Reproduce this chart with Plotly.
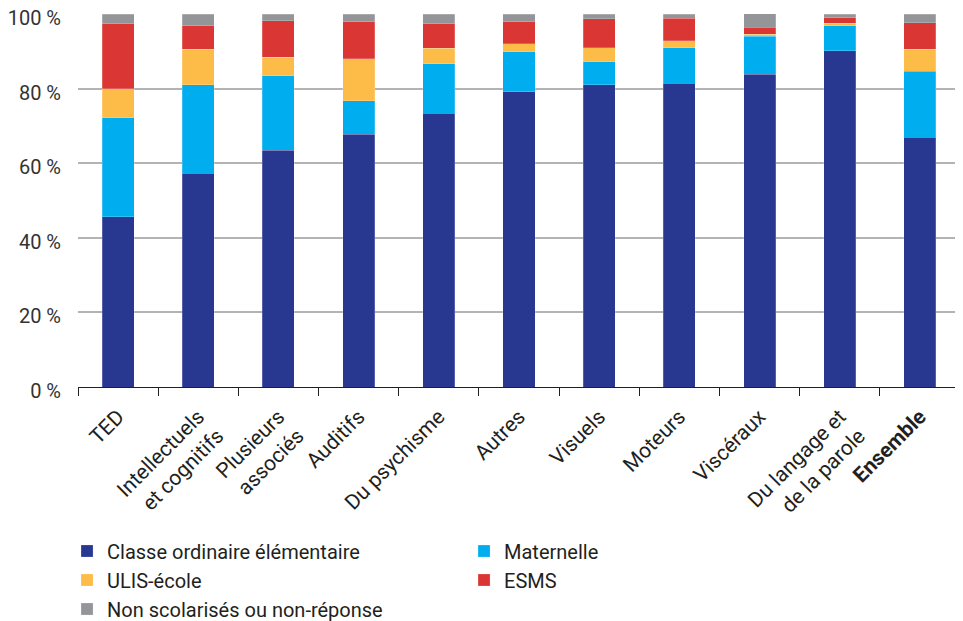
import plotly.graph_objects as go

categories = ["TED", "Intellectuels<br>et cognitifs", "Plusieurs<br>associés", "Auditifs",
              "Du psychisme", "Autres", "Visuels", "Moteurs", "Viscéraux",
              "Du langage et<br>de la parole", "<b>Ensemble</b>"]

classe_ordinaire = [45.7, 57.3, 63.5, 67.7, 73.4, 79.2, 81.0, 81.4, 83.8, 90.2, 67.0]
maternelle = [26.5, 23.8, 19.9, 9.1, 13.3, 10.7, 6.2, 9.5, 10.3, 6.7, 17.6]
ulis_ecole = [7.8, 9.4, 5.0, 11.2, 4.1, 2.1, 3.7, 1.9, 0.5, 0.6, 6.0]
esms = [17.4, 6.3, 9.8, 9.9, 6.6, 5.9, 7.8, 6.0, 1.8, 1.5, 7.0]
non_scolarises = [2.6, 3.2, 1.8, 2.1, 2.6, 2.1, 1.3, 1.2, 3.7, 1.0, 2.4]

y_tick_values = [0, 20, 40, 60, 80, 100]
y_tick_labels = ["0 %", "20 %", "40 %", "60 %", "80 %", "100 %"]

series = [
    ("Classe ordinaire élémentaire", classe_ordinaire, "#283891"),
    ("Maternelle", maternelle, "#00AEEF"),
    ("ULIS-école", ulis_ecole, "#FDBB47"),
    ("ESMS", esms, "#DA3734"),
    ("Non scolarisés ou non-réponse", non_scolarises, "#939598"),
]

FONT = "Roboto, sans-serif"

fig = go.Figure()
for name, vals, color in series:
    fig.add_trace(go.Bar(
        x=categories, y=vals, name=name,
        marker=dict(color=color, line=dict(color="rgba(255,255,255,0.4)", width=0.5)),
    ))

fig.update_layout(
    barmode="stack",
    bargap=0.6,
    width=963, height=621,
    margin=dict(l=70, r=11, t=6, b=242),
    paper_bgcolor="white", plot_bgcolor="white",
    font=dict(family=FONT, size=21, color="#231F20"),
    showlegend=True,
    legend=dict(
        orientation="h",
        xref="container", x=0.0613, xanchor="left",
        yref="container", y=0.157, yanchor="top",
        entrywidth=352, entrywidthmode="pixels",
        traceorder="normal",
        font=dict(size=20, color="#231F20"),
        itemwidth=30, tracegroupgap=0,
    ),
    xaxis=dict(
        automargin=False,
        tickangle=-45,
        showline=True, linecolor="#231F20", linewidth=1.2,
        ticks="outside", tickson="boundaries", ticklen=8, tickcolor="#231F20",
        ticklabelstandoff=8,
        tickfont=dict(size=21, color="#231F20"),
        showgrid=False,
    ),
    yaxis=dict(
        automargin=False,
        range=[0, 100],
        tickmode="array",
        tickvals=y_tick_values,
        ticktext=y_tick_labels,
        ticklabelstandoff=16,
        ticklabelshift=4,
        ticklabeloverflow="allow",
        showgrid=True, gridcolor="#B3B3B3", gridwidth=1.5,
        zeroline=False, showline=False,
        tickfont=dict(size=20, color="#333333"),
    ),
)

fig.write_html("out.html")
